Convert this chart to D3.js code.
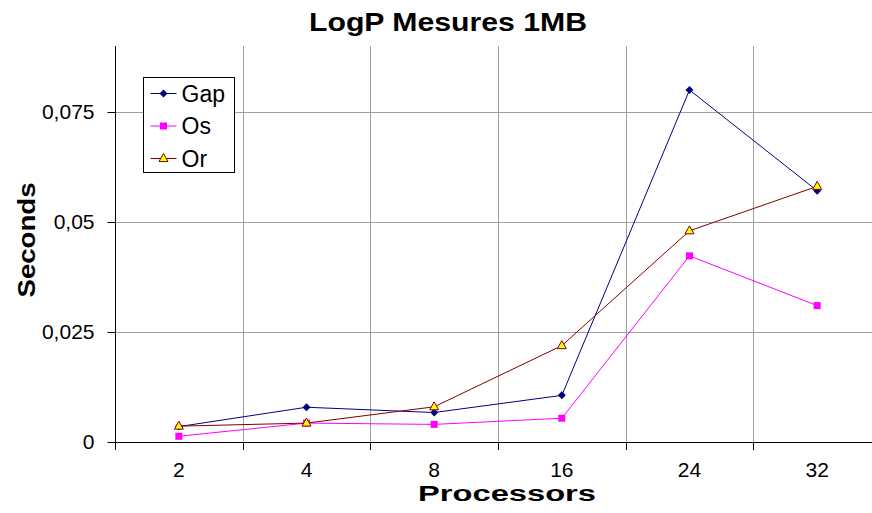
<!DOCTYPE html>
<html>
<head>
<meta charset="utf-8">
<script src="https://cdn.jsdelivr.net/npm/d3@7"></script>
<style>
  body { margin: 0; background: #fff; }
  svg { display: block; overflow: hidden; }
  text { font-family: "Liberation Sans", Arial, sans-serif; fill: #000; }
</style>
</head>
<body>
<div id="main"></div>
<script>
//data
const processors = ['2', '4', '8', '16', '24', '32'];
const gapValues = [0.0035, 0.0079, 0.0067, 0.0106, 0.0800, 0.0571];
const osValues = [0.0013, 0.0043, 0.0040, 0.0054, 0.0423, 0.0310];
const orValues = [0.0036, 0.0043, 0.0080, 0.0219, 0.0480, 0.0581];
const yTicks = [0, 0.025, 0.05, 0.075];
const seriesNames = ['Gap', 'Os', 'Or'];

//constants
const width = 872, height = 513;
const plot = {left: 115, right: 881, top: 46, bottom: 442};

const series = [
  {name: seriesNames[0], values: gapValues, color: '#000080', marker: 'diamond', fill: '#000080'},
  {name: seriesNames[1], values: osValues, color: '#ff00ff', marker: 'square', fill: '#ff00ff'},
  {name: seriesNames[2], values: orValues, color: '#800000', marker: 'triangle', fill: '#ffff00'}
];

//scales
const x = d3.scaleBand()
  .domain(processors)
  .range([plot.left, plot.right])
  .padding(0);

const y = d3.scaleLinear()
  .domain([0, 0.09])
  .range([plot.bottom, plot.top]);

const fmt = d3.formatLocale({decimal: ',', thousands: '.', grouping: [3], currency: ['', '']}).format('~g');

const svg = d3.select('#main')
  .append('svg')
  .attr('width', width)
  .attr('height', height);

//gridlines
svg.append('g')
  .selectAll('line')
  .data(yTicks.filter(d => d > 0))
  .enter()
  .append('line')
  .attr('x1', plot.left)
  .attr('x2', plot.right)
  .attr('y1', d => Math.round(y(d)) + 0.5)
  .attr('y2', d => Math.round(y(d)) + 0.5)
  .attr('stroke', '#a0a0a0');

svg.append('g')
  .selectAll('line')
  .data(processors.slice(1))
  .enter()
  .append('line')
  .attr('x1', d => Math.round(x(d)) + 0.5)
  .attr('x2', d => Math.round(x(d)) + 0.5)
  .attr('y1', plot.top)
  .attr('y2', plot.bottom)
  .attr('stroke', '#a0a0a0');

//x tick marks at band boundaries
svg.append('g')
  .selectAll('line')
  .data(processors)
  .enter()
  .append('line')
  .attr('x1', d => Math.round(x(d)) + 0.5)
  .attr('x2', d => Math.round(x(d)) + 0.5)
  .attr('y1', plot.bottom)
  .attr('y2', plot.bottom + 8)
  .attr('stroke', '#000');

//axes
const yAxis = d3.axisLeft(y)
  .tickValues(yTicks)
  .tickFormat(fmt)
  .tickSize(8)
  .tickPadding(13);

svg.append('g')
  .attr('transform', `translate(${plot.left + 0.5}, 0)`)
  .call(yAxis)
  .call(g => g.select('.domain').remove())
  .call(g => g.selectAll('.tick line').attr('stroke', '#000'))
  .selectAll('text')
  .style('font-size', '21px');

svg.append('line')
  .attr('x1', plot.left + 0.5)
  .attr('x2', plot.left + 0.5)
  .attr('y1', plot.top)
  .attr('y2', plot.bottom)
  .attr('stroke', '#000');

const xAxis = d3.axisBottom(x)
  .tickSize(0)
  .tickPadding(20);

svg.append('g')
  .attr('transform', `translate(0, ${plot.bottom + 0.5})`)
  .call(xAxis)
  .call(g => g.select('.domain').attr('stroke', '#000').attr('d', `M${plot.left},0H${plot.right}`))
  .selectAll('text')
  .style('font-size', '21px');

//lines
const line = d3.line()
  .x((d, i) => x(processors[i]) + x.bandwidth() / 2)
  .y(d => y(d));

series.forEach(s => {
  svg.append('path')
    .datum(s.values)
    .attr('fill', 'none')
    .attr('stroke', s.color)
    .attr('stroke-width', 1)
    .attr('d', line);
});

function markerPath (type) {
  if (type === 'diamond') return 'M0,-4L4,0L0,4L-4,0Z';
  if (type === 'square') return 'M-3.5,-3.5H3.5V3.5H-3.5Z';
  return 'M0,-5L4.5,3L-4.5,3Z';
}

series.forEach(s => {
  svg.append('g')
    .selectAll('path')
    .data(s.values)
    .enter()
    .append('path')
    .attr('transform', (d, i) => `translate(${x(processors[i]) + x.bandwidth() / 2}, ${y(d)})`)
    .attr('d', markerPath(s.marker))
    .attr('fill', s.fill)
    .attr('stroke', s.marker === 'triangle' ? s.color : 'none')
    .attr('stroke-width', 1);
});

//legend
const legend = svg.append('g')
  .attr('transform', 'translate(143.5, 77.5)');

legend.append('rect')
  .attr('width', 91)
  .attr('height', 95)
  .attr('fill', '#fff')
  .attr('stroke', '#000');

const items = legend.selectAll('g.item')
  .data(series)
  .enter()
  .append('g')
  .attr('class', 'item')
  .attr('transform', (d, i) => `translate(0, ${16 + i * 32.5})`);

items.append('line')
  .attr('x1', 7)
  .attr('x2', 33)
  .attr('stroke', d => d.color);

items.append('path')
  .attr('transform', 'translate(20, 0)')
  .attr('d', d => markerPath(d.marker))
  .attr('fill', d => d.fill)
  .attr('stroke', d => d.marker === 'triangle' ? d.color : 'none');

items.append('text')
  .attr('x', 38)
  .attr('y', 8)
  .style('font-size', '23px')
  .text(d => d.name);

//titles
svg.append('text')
  .attr('x', 448)
  .attr('y', 31)
  .attr('text-anchor', 'middle')
  .attr('textLength', 278)
  .attr('lengthAdjust', 'spacingAndGlyphs')
  .style('font-size', '25px')
  .style('font-weight', 'bold')
  .text('LogP Mesures 1MB');

svg.append('text')
  .attr('x', 507)
  .attr('y', 501)
  .attr('text-anchor', 'middle')
  .attr('textLength', 178)
  .attr('lengthAdjust', 'spacingAndGlyphs')
  .style('font-size', '22px')
  .style('font-weight', 'bold')
  .text('Processors');

svg.append('text')
  .attr('transform', 'translate(35, 240) rotate(-90)')
  .attr('text-anchor', 'middle')
  .attr('textLength', 115)
  .attr('lengthAdjust', 'spacingAndGlyphs')
  .style('font-size', '24px')
  .style('font-weight', 'bold')
  .text('Seconds');
</script>
</body>
</html>
